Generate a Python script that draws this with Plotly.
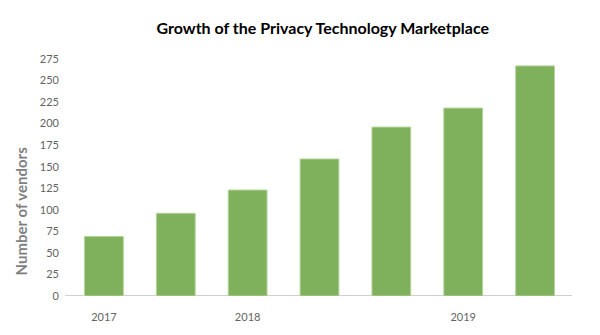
import plotly.graph_objects as go

# Vendor counts for each report edition
editions = [0, 1, 2, 3, 4, 5, 6]
vendors = [69, 96, 123, 159, 196, 218, 267]

# Year labels shown under the first edition of each year
year_tick_positions = [0, 2, 5]
year_tick_labels = ["2017", "2018", "2019"]

y_ticks = list(range(0, 276, 25))

fig = go.Figure(
    go.Bar(
        x=editions,
        y=vendors,
        marker=dict(color="#7fb05b", line=dict(color="#b5d59c", width=1)),
        hoverinfo="y",
    )
)

fig.update_layout(
    width=600,
    height=335,
    margin=dict(l=68, r=29, t=59, b=35),
    paper_bgcolor="white",
    plot_bgcolor="white",
    bargap=0.46,
    showlegend=False,
    font=dict(family="Lato", color="#636363"),
    title=dict(
        text="<b>Growth of the Privacy Technology Marketplace</b>",
        x=0.538,
        xanchor="center",
        y=0.915,
        yanchor="middle",
        font=dict(family="Lato", size=16, color="#000000"),
    ),
)

fig.update_xaxes(
    range=[-0.5, 6.5],
    tickmode="array",
    tickvals=year_tick_positions,
    ticktext=year_tick_labels,
    tickfont=dict(size=11, color="#636363"),
    ticks="",
    ticklabelstandoff=13,
    showgrid=False,
    zeroline=False,
    showline=False,
)

fig.update_yaxes(
    range=[0, 275],
    tickmode="array",
    tickvals=y_ticks,
    tickfont=dict(size=11, color="#636363"),
    ticks="",
    ticklabelstandoff=8,
    showgrid=False,
    zeroline=False,
    showline=False,
)

# Baseline runs a little past the outer bars on both sides
fig.add_shape(
    type="line",
    xref="paper",
    yref="y",
    x0=-0.006,
    x1=1.002,
    y0=0,
    y1=0,
    line=dict(color="#d0d0d0", width=2),
    layer="below",
)

fig.add_annotation(
    text="<b>Number of vendors</b>",
    xref="paper",
    yref="paper",
    x=-0.094,
    y=0.36,
    xanchor="center",
    yanchor="middle",
    textangle=-90,
    showarrow=False,
    font=dict(family="Lato", size=15, color="#7f7f7f"),
)

fig.write_html("out.html")
